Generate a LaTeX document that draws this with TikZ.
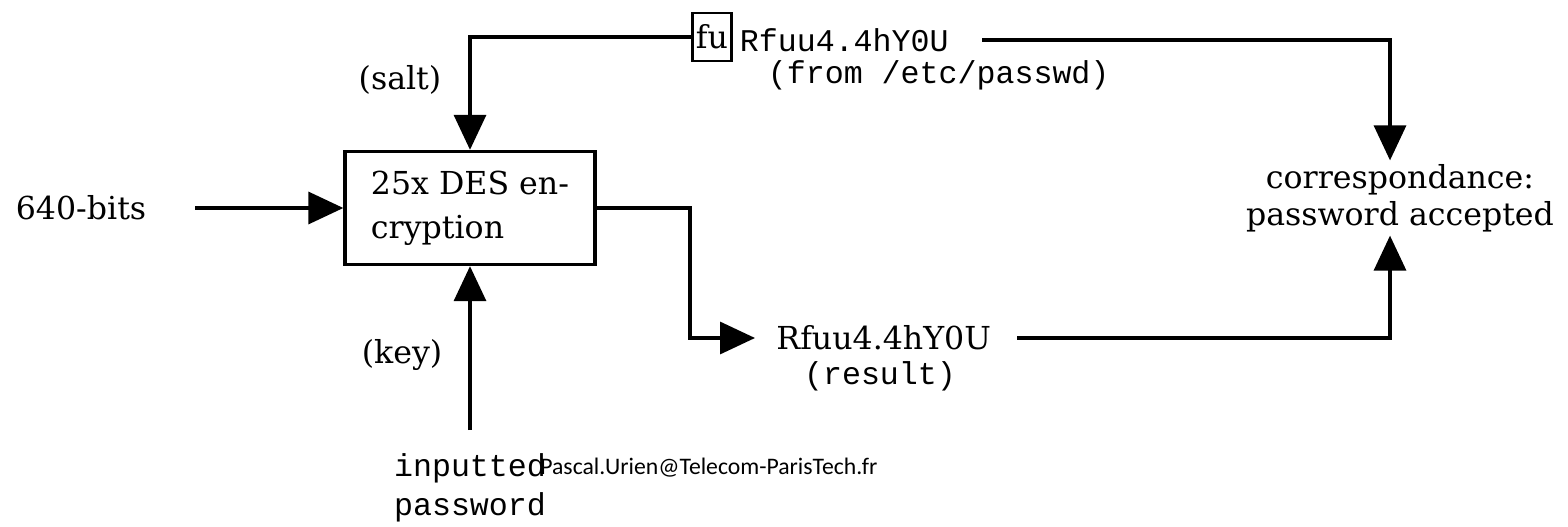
\documentclass[tikz,border=0pt]{standalone}
\usepackage{fontspec}
\setmainfont{DejaVu Serif}
\setmonofont{Liberation Mono}
\newfontfamily\footfont{Carlito}
\usetikzlibrary{positioning, arrows.meta}

\tikzset{
    arr/.style={draw, line width=1.9pt, -{Triangle[length=0.7cm, width=0.64cm]}},
    lbl/.style={inner sep=2pt, font=\fontsize{18}{21}\selectfont},
    mono/.style={inner sep=2pt, font=\fontsize{18}{22}\selectfont\ttfamily},
    box/.style={draw, line width=1.9pt, minimum width=5cm, minimum height=2.26cm,
        align=left, font=\fontsize{18}{25}\selectfont}
}

\begin{document}
\begin{tikzpicture}[x=0.02cm, y=-0.02cm]
\useasboundingbox (0,0) rectangle (1568,527);

\node (bits) [lbl, anchor=west] at (12,208) {640-bits};
\node (des) [box] at (470,208) {25x DES en-\\cryption};
\node (salt) [lbl] at (400,80) {(salt)};
\node (key) [lbl] at (402,355) {(key)};
\node (fubox) [draw, line width=1.6pt, inner xsep=2pt, minimum height=0.96cm,
    font=\fontsize{18}{21}\selectfont] at (712,37) {fu};
\node (hashtop) [mono, anchor=west] at (736,40) {Rfuu4.4hY0U};
\node (from) [mono, anchor=west] at (764,75) {(from /etc/passwd)};
\node (corr) [lbl, align=center] at (1400,198) {correspondance:\\password accepted};
\node (hashbot) [lbl, anchor=west, inner sep=12pt] at (755,338) {Rfuu4.4hY0U};
\node (result) [mono] at (880,376) {(result)};
\node (pw) [mono, align=left, anchor=north] at (470,450) {inputted\\password};
\node (foot) [anchor=west, inner sep=0pt, font=\fontsize{13.5}{16}\selectfont\footfont]
    at (540,468) {Pascal.Urien@Telecom-ParisTech.fr};
\coordinate (turn) at (690,338);

\draw[arr, shorten <=0.9cm] (bits.east) -- (des.west);
\draw[arr] (fubox.west) -| (des.north);
\draw[arr, shorten <=0.6cm] (hashtop.east) -| ([xshift=-0.2cm]corr.north);
\draw[arr] (des.east) -| (turn) -- (hashbot.west);
\draw[arr, shorten <=0.1cm] (hashbot.east) -| ([xshift=-0.2cm]corr.south);
\draw[arr, shorten <=0.4cm] (pw.north) -- (des.south);
\end{tikzpicture}
\end{document}
